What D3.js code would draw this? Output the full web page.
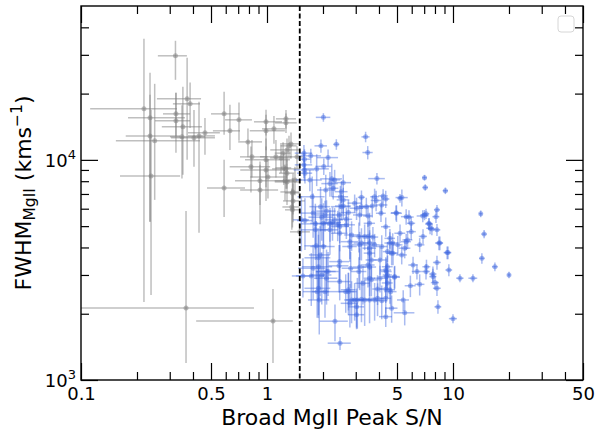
<!DOCTYPE html>
<html><head><meta charset="utf-8">
<script src="https://cdn.jsdelivr.net/npm/d3@7"></script>
<style>body{margin:0;background:#fff}svg{display:block}text{font-family:"DejaVu Sans",sans-serif}</style>
</head><body><svg id="c" width="598" height="433"></svg>
<script>
const xTickVals=[0.1,0.5,1,5,10,50];
const xTickLabels=["0.1","0.5","1","5","10","50"];
const yTickVals=[1000,10000];
const yTickLabels=[["10","3"],["10","4"]];
const snCut=1.5;
const xLabel="Broad MgII Peak S/N";

// low S/N (gray) sample, asymmetric errors
const graySN=[0.322,0.218,0.235,0.235,0.249,0.238,0.324,0.324,0.372,0.386,0.353,0.349,0.405,0.431,0.464,0.588,0.632,0.707,0.588,0.790,0.830,0.820,0.988,0.988,1.090,1.265,1.265,0.988,0.988,0.917,0.917,1.117,1.281,1.346,1.265,1.281,1.380,1.380,1.360,1.500,0.367,1.077,1.189,1.313,1.450,1.012,1.250,1.414,1.370,1.230,1.280,1.370,1.220];
const graySNLo=[0.063,0.106,0.056,0.061,0.095,0.076,0.048,0.074,0.116,0.074,0.081,0.048,0.100,0.055,0.088,0.088,0.120,0.112,0.112,0.090,0.114,0.190,0.137,0.180,0.150,0.148,0.160,0.226,0.270,0.244,0.200,0.200,0.240,0.170,0.200,0.180,0.200,0.160,0.150,0.170,0.500,0.661,0.150,0.130,0.120,0.200,0.150,0.120,0.120,0.120,0.120,0.120,0.120];
const graySNHi=[0.049,0.110,0.127,0.106,0.187,0.103,0.062,0.062,0.070,0.050,0.094,0.115,0.120,0.094,0.094,0.122,0.084,0.123,0.174,0.150,0.180,0.220,0.216,0.260,0.160,0.167,0.180,0.340,0.260,0.410,0.230,0.240,0.220,0.150,0.240,0.220,0.120,0.220,0.140,0.200,0.484,0.300,0.170,0.130,0.120,0.270,0.150,0.120,0.120,0.120,0.120,0.120,0.120];
const grayFWHM=[29700,17050,15520,12850,12200,8450,16180,15040,18930,17970,14130,12720,12590,12850,13270,16180,13550,15200,7460,12070,10320,9300,14890,13550,13830,15360,14730,10000,9000,8030,7300,10320,11100,11820,9100,7940,7150,6510,6110,4710,2125,1854,10210,11580,10320,8370,8030,8110,5930,9200,8700,7080,10730];
const grayFWHMLo=[6600,14790,10290,7620,5620,6020,3330,4280,8930,4000,5580,4500,3290,8190,2730,3180,2450,3000,1960,1800,2000,2200,2000,2500,2000,1500,1500,2500,2500,1800,2200,2000,1400,1500,1700,1700,1500,1300,1300,400,930,659,1500,1300,1200,1700,1500,1200,1000,1500,1300,1200,1300];
const grayFWHMHi=[5050,18430,9330,6900,9950,8420,3980,5120,10150,4500,7340,5000,4270,5500,2230,4190,4230,3000,2540,1800,2000,2200,2000,2500,2000,1500,1500,2500,2500,1800,2200,2000,1400,1500,1700,1700,1500,1300,1300,400,3740,738,1500,1300,1200,1700,1500,1200,1000,1500,1300,1200,1300];

// high S/N (blue) sample, symmetric errors
const blueSN=[2.01,3.39,3.48,2.36,1.95,1.58,1.72,2.13,1.59,1.58,
1.85,2.02,1.59,1.60,1.70,2.23,2.18,2.31,2.57,3.90,
2.07,2.27,2.51,1.75,2.48,2.57,3.22,3.79,4.21,4.35,
3.86,1.94,2.09,2.57,3.03,3.22,3.68,4.14,5.19,2.44,
2.74,3.49,4.10,1.60,2.25,2.67,4.35,1.97,7.03,7.09,
9.10,5.31,4.94,5.80,6.88,7.16,8.20,8.10,5.96,7.43,
7.53,8.20,5.96,5.19,6.90,14.1,14.7,4.74,5.60,5.50,
6.62,8.50,4.68,5.30,9.30,14.3,16.8,20.0,12.8,10.9,
8.20,7.20,6.10,6.40,7.16,7.80,9.50,4.86,7.80,8.00,
6.62,5.90,8.20,4.62,5.40,4.68,5.50,8.30,10.0,2.47,
2.32,3.03,4.35,1.91,1.89,1.73,1.56,1.93,2.46,2.74,
2.85,2.96,3.06,3.22,3.35,3.56,3.79,3.93,4.14,4.35,
3.03,3.93,4.35,4.38,4.44,4.38,4.84,4.05,3.56,3.79,
2.79,2.79,3.49,3.56,3.12,3.15,3.71,4.58,4.58,4.44,
4.76,5.05,5.70,5.60,4.97,7.03,7.43,7.70,8.40,9.40,
3.42,2.51,2.96,2.05,1.77,2.01,2.18,2.46,2.67,3.15,
2.18,2.46,1.82,2.31,2.85,2.01,1.84,1.53,1.89,1.77,
2.09,1.97,2.46,2.05,1.89,2.74,3.28,3.64,4.05,3.64,
3.49,3.12,3.15,2.82,3.56,4.58,4.44,4.44,4.35,3.56,
3.56,4.14,3.35,3.22,2.44,2.13,1.82,2.40,3.56,2.09,
1.86,2.65,2.79];
const blueSNErr=[0.18,0.17,0.22,0.09,0.15,0.17,0.23,0.28,0.12,0.17,
0.30,0.20,0.20,0.15,0.27,0.30,0.22,0.17,0.26,0.40,
0.21,0.15,0.20,0.29,0.25,0.20,0.14,0.20,0.25,0.20,
0.25,0.25,0.25,0.25,0.25,0.20,0.25,0.30,0.15,0.20,
0.25,0.20,0.25,0.15,0.25,0.20,0.25,0.30,0.20,0.25,
0.30,0.40,0.30,0.35,0.50,0.30,0.30,0.35,0.30,0.30,
0.35,0.35,0.35,0.35,0.35,0.30,0.50,0.30,0.35,0.40,
0.40,0.35,0.30,0.35,0.40,0.50,0.60,0.40,0.70,0.50,
0.40,0.35,0.35,0.40,0.35,0.35,0.40,0.30,0.35,0.40,
0.40,0.40,0.40,0.35,0.40,0.35,0.70,0.35,0.50,0.35,
0.40,0.30,0.35,0.25,0.35,0.30,0.20,0.25,0.30,0.30,
0.25,0.30,0.25,0.35,0.30,0.30,0.30,0.30,0.30,0.30,
0.30,0.25,0.30,0.30,0.30,0.25,0.35,0.30,0.30,0.25,
0.30,0.25,0.25,0.30,0.25,0.30,0.25,0.30,0.30,0.25,
0.30,0.30,0.35,0.35,0.35,0.35,0.35,0.35,0.40,0.40,
0.25,0.30,0.25,0.25,0.25,0.30,0.25,0.30,0.30,0.25,
0.25,0.25,0.30,0.25,0.25,0.30,0.25,0.15,0.30,0.30,
0.25,0.25,0.35,0.30,0.30,0.25,0.30,0.30,0.30,0.25,
0.30,0.30,0.25,0.30,0.25,0.30,0.30,0.25,0.30,0.25,
0.30,0.30,0.25,0.30,0.30,0.30,0.30,0.30,0.25,0.30,
0.30,0.30,0.30];
const blueFWHM=[15600,12720,10800,11760,11580,10730,10430,10240,10070,9490,
9100,9340,9000,8700,8100,8200,7800,8110,7880,8220,
7300,7430,7170,6800,6800,6580,6760,6800,6860,6640,
6540,6130,5850,6170,6030,6130,6170,6240,6690,5620,
5760,5560,5720,5300,5190,5370,4970,5490,8300,7490,
7240,6740,5750,5500,5560,5690,5930,5520,5150,5150,
4890,4810,4720,4640,4490,5690,4600,4190,4250,3970,
4110,4190,3770,3700,3790,3570,3270,3000,2900,2900,
3420,3270,3330,3110,3110,3030,3160,2950,2950,2770,
2720,2680,2610,2520,2310,2120,2020,2150,1900,1470,
1850,1980,1940,2310,3270,2970,2970,3700,3450,2520,
2310,2310,2310,2330,2310,2310,2310,2350,2290,2350,
2150,2590,2590,3110,3270,2950,2930,3510,4190,4110,
4250,4040,4490,3970,4490,4110,4460,4190,4400,3830,
3770,4110,4330,5520,5720,5620,5110,4850,4190,3790,
6130,6130,6360,5620,5730,5150,5150,4980,5070,5620,
4810,4640,4810,5340,4560,4040,4070,5340,3590,3220,
3110,3000,2800,2520,2610,2570,2750,2850,2900,3510,
3330,3110,3260,3220,3770,2570,2760,3000,3160,2900,
3260,4040,4490,4190,3300,3110,5120,5070,5150,2900,
2520,2520,2230];
const blueFWHMErr=[700,700,750,650,800,950,800,900,1100,1250,
1500,800,1000,900,900,1400,1000,900,700,500,
1250,820,800,1600,800,900,500,600,500,600,
700,1400,700,800,700,600,700,600,300,700,
800,600,500,1400,900,700,500,1200,250,250,
250,600,450,400,350,300,300,350,350,300,
300,300,400,450,350,200,200,450,350,400,
300,300,450,350,250,200,150,100,120,120,
250,250,300,250,250,250,200,350,250,200,
300,300,200,350,250,300,250,150,90,100,
350,250,200,700,1300,800,600,1300,650,550,
500,450,600,500,550,500,450,400,400,350,
450,400,350,450,400,400,350,500,600,500,
700,600,600,700,700,600,500,500,450,400,
450,400,400,450,500,300,300,300,300,250,
600,800,600,900,1300,1200,900,800,700,600,
1100,800,1300,700,700,1100,1200,1500,1300,900,
800,800,500,600,700,500,550,450,400,600,
700,500,700,600,600,350,400,400,450,500,
600,500,600,700,800,700,1200,800,600,700,
600,500,500];

const svg=d3.select("#c");
const L=81,R=583,T=6,B=380;
const x=d3.scaleLog().domain([0.1,50]).range([L,R]);
const y=d3.scaleLog().domain([1000,50000]).range([B,T]);

svg.append("defs").append("clipPath").attr("id","clip")
  .append("rect").attr("x",L).attr("y",T).attr("width",R-L).attr("height",B-T);
const plot=svg.append("g").attr("clip-path","url(#clip)");

function px(v){return v>0?x(v):L-5;}
function py(v){return v>0?y(v):B+5;}

function drawSeries(sn,snLo,snHi,fw,fLo,fHi,color,op,r){
  const pts=sn.map((v,i)=>({sn:v,xl:v-snLo[i],xh:v+snHi[i],fw:fw[i],yl:fw[i]-fLo[i],yh:fw[i]+fHi[i]}));
  const g=plot.append("g");
  g.selectAll("line.h").data(pts).join("line").attr("class","h")
    .attr("x1",d=>px(d.xl)).attr("x2",d=>px(d.xh)).attr("y1",d=>y(d.fw)).attr("y2",d=>y(d.fw))
    .attr("stroke",color).attr("stroke-opacity",op).attr("stroke-width",1.5);
  g.selectAll("line.v").data(pts).join("line").attr("class","v")
    .attr("x1",d=>x(d.sn)).attr("x2",d=>x(d.sn)).attr("y1",d=>py(d.yl)).attr("y2",d=>py(d.yh))
    .attr("stroke",color).attr("stroke-opacity",op).attr("stroke-width",1.5);
  g.selectAll("circle").data(pts).join("circle")
    .attr("cx",d=>x(d.sn)).attr("cy",d=>y(d.fw)).attr("r",r)
    .attr("fill",color).attr("fill-opacity",op);
}
drawSeries(graySN,graySNLo,graySNHi,grayFWHM,grayFWHMLo,grayFWHMHi,"#808080",0.5,2.5);
drawSeries(blueSN,blueSNErr,blueSNErr,blueFWHM,blueFWHMErr,blueFWHMErr,"#4169e1",0.45,2.5);

// dashed S/N cut
svg.append("line").attr("x1",x(snCut)).attr("x2",x(snCut)).attr("y1",T).attr("y2",B)
  .attr("stroke","#000").attr("stroke-width",1.8).attr("stroke-dasharray","5,2.5");

// ticks
const xMinor=x.ticks().filter(v=>!xTickVals.some(t=>Math.abs(t-v)<1e-9));
const yMinor=y.ticks().filter(v=>!yTickVals.some(t=>Math.abs(t-v)<1e-9)&&v<50000);
function styleAxis(g){g.select(".domain").remove();g.selectAll("line").attr("stroke","#000").attr("stroke-width",1.2);}
svg.append("g").attr("transform",`translate(0,${B})`)
  .call(d3.axisBottom(x).tickValues(xTickVals).tickSize(-17).tickPadding(7).tickFormat((d,i)=>xTickLabels[i]))
  .call(styleAxis).call(g=>g.selectAll("text").attr("font-size",18).attr("font-family","DejaVu Sans").attr("fill","#000"));
svg.append("g").attr("transform",`translate(0,${B})`).call(d3.axisBottom(x).tickValues(xMinor).tickSize(-8).tickFormat("")).call(styleAxis);
svg.append("g").attr("transform",`translate(0,${T})`).call(d3.axisTop(x).tickValues(xTickVals).tickSize(-17).tickFormat("")).call(styleAxis);
svg.append("g").attr("transform",`translate(0,${T})`).call(d3.axisTop(x).tickValues(xMinor).tickSize(-8).tickFormat("")).call(styleAxis);
svg.append("g").attr("transform",`translate(${L},0)`).call(d3.axisLeft(y).tickValues(yTickVals).tickSize(-17).tickFormat("")).call(styleAxis);
svg.append("g").attr("transform",`translate(${L},0)`).call(d3.axisLeft(y).tickValues(yMinor).tickSize(-8).tickFormat("")).call(styleAxis);
svg.append("g").attr("transform",`translate(${R},0)`).call(d3.axisRight(y).tickValues(yTickVals).tickSize(-17).tickFormat("")).call(styleAxis);
svg.append("g").attr("transform",`translate(${R},0)`).call(d3.axisRight(y).tickValues(yMinor).tickSize(-8).tickFormat("")).call(styleAxis);

// y tick labels with superscripts
yTickVals.forEach((v,i)=>{
  const t=svg.append("text").attr("x",L-5).attr("y",y(v)+7).attr("text-anchor","end").attr("fill","#000");
  t.append("tspan").attr("font-size",18).text(yTickLabels[i][0]);
  t.append("tspan").attr("font-size",13).attr("dy",-8).text(yTickLabels[i][1]);
});

// frame
svg.append("rect").attr("x",L).attr("y",T).attr("width",R-L).attr("height",B-T)
  .attr("fill","none").attr("stroke","#000").attr("stroke-width",1.4);

// empty legend
svg.append("rect").attr("x",558).attr("y",16).attr("width",16).attr("height",16).attr("rx",3)
  .attr("fill","#fff").attr("fill-opacity",0.8).attr("stroke","#d6d6d6").attr("stroke-width",1);

// axis labels
svg.append("text").attr("x",(L+R)/2).attr("y",425).attr("text-anchor","middle").attr("font-size",22).attr("fill","#000").text(xLabel);
const yl=svg.append("text").attr("transform",`translate(31,${(T+B)/2}) rotate(-90)`).attr("text-anchor","middle").attr("fill","#000");
yl.append("tspan").attr("font-size",22).text("FWHM");
yl.append("tspan").attr("font-size",15.5).attr("dy",4).text("MgII");
yl.append("tspan").attr("font-size",22).attr("dy",-4).text(" (kms");
yl.append("tspan").attr("font-size",15.5).attr("dy",-9).text("\u22121");
yl.append("tspan").attr("font-size",22).attr("dy",9).text(")");
</script></body></html>
